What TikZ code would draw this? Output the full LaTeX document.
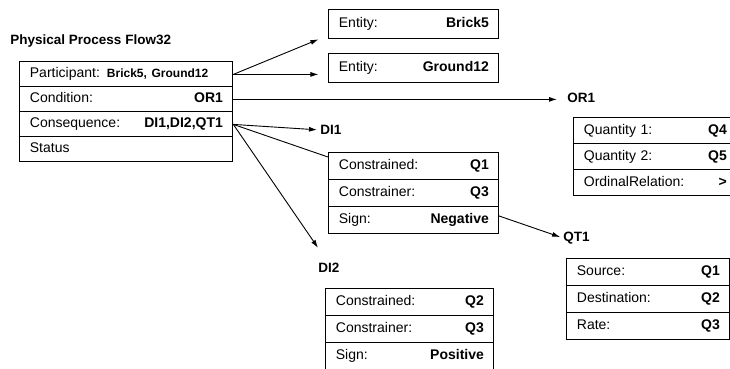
\documentclass[tikz,border=0pt]{standalone}
\usepackage{fontspec}
\setmainfont{Liberation Sans}
\usetikzlibrary{matrix,arrows.meta}

\begin{document}
\begin{tikzpicture}[
    x=1pt, y=-1pt,
    line width=0.9pt,
    font=\fontsize{14}{16}\selectfont,
    record/.style 2 args={
        matrix of nodes,
        anchor=north west,
        inner sep=0pt,
        row sep=-\pgflinewidth,
        nodes={draw, fill=white, align=left, text width=#1, minimum height=#2,
               inner xsep=10pt, inner ysep=0pt, text height=10pt, text depth=3pt}
    },
    heading/.style={anchor=west, inner sep=0pt, font=\fontsize{13.5}{16}\selectfont\bfseries},
    link/.style={-{Latex[length=8pt,width=5pt]}}
]
\useasboundingbox (0,0) rectangle (730,369);

\node[heading] (title) at (10,41) {Physical Process Flow32};

\matrix (flow) [record={193pt}{25pt}] at (19,61) {
    \mbox{Participant: {\fontsize{12}{16}\selectfont\bfseries Brick5, Ground12}} \\
    Condition:\hfill\textbf{OR1} \\
    Consequence:\hfill\textbf{DI1,DI2,QT1} \\
    Status \\
};

\matrix (brick) [record={150pt}{29pt}] at (328,9) {
    Entity:\hfill\textbf{Brick5} \\
};
\matrix (ground) [record={150pt}{29pt}] at (328,53) {
    Entity:\hfill\textbf{Ground12} \\
};

\node[heading] (or1) at (567,98) {OR1};
\node[heading] (di1) at (320,130) {DI1};
\node[heading] (di2) at (318,268) {DI2};
\node[heading] (qt1) at (563,238) {QT1};

\matrix (ordrel) [record={143pt}{26pt}] at (573,117) {
    Quantity 1:\hfill\textbf{Q4} \\
    Quantity 2:\hfill\textbf{Q5} \\
    OrdinalRelation:\hfill\textbf{>} \\
};

\matrix (flowrate) [record={143pt}{26.7pt}] at (566,258) {
    Source:\hfill\textbf{Q1} \\
    Destination:\hfill\textbf{Q2} \\
    Rate:\hfill\textbf{Q3} \\
};

% connectors first, so the DI1 box hides the QT1 line
\draw[link] (flow-1-1.east) -- ([xshift=-10pt]brick-1-1.south west);
\draw[link, shorten >=10pt] (flow-1-1.east) -- (flow-1-1.east -| ground-1-1.west);
\draw[link, shorten >=10pt] (flow-2-1.east) -- (flow-2-1.east -| or1.west);
\draw[link, shorten >=3pt] (flow-3-1.east) -- (di1.west);
\draw[link] (flow-3-1.east) -- ([yshift=15pt]di2.north west);
\draw[link, shorten >=3pt] (flow-3-1.east) -- (qt1.west);

\matrix (infl1) [record={150pt}{26.7pt}] at (328,152) {
    Constrained:\hfill\textbf{Q1} \\
    Constrainer:\hfill\textbf{Q3} \\
    Sign:\hfill\textbf{Negative} \\
};

\matrix (infl2) [record={148pt}{27pt}] at (325,288) {
    Constrained:\hfill\textbf{Q2} \\
    Constrainer:\hfill\textbf{Q3} \\
    Sign:\hfill\textbf{Positive} \\
};
\end{tikzpicture}
\end{document}
